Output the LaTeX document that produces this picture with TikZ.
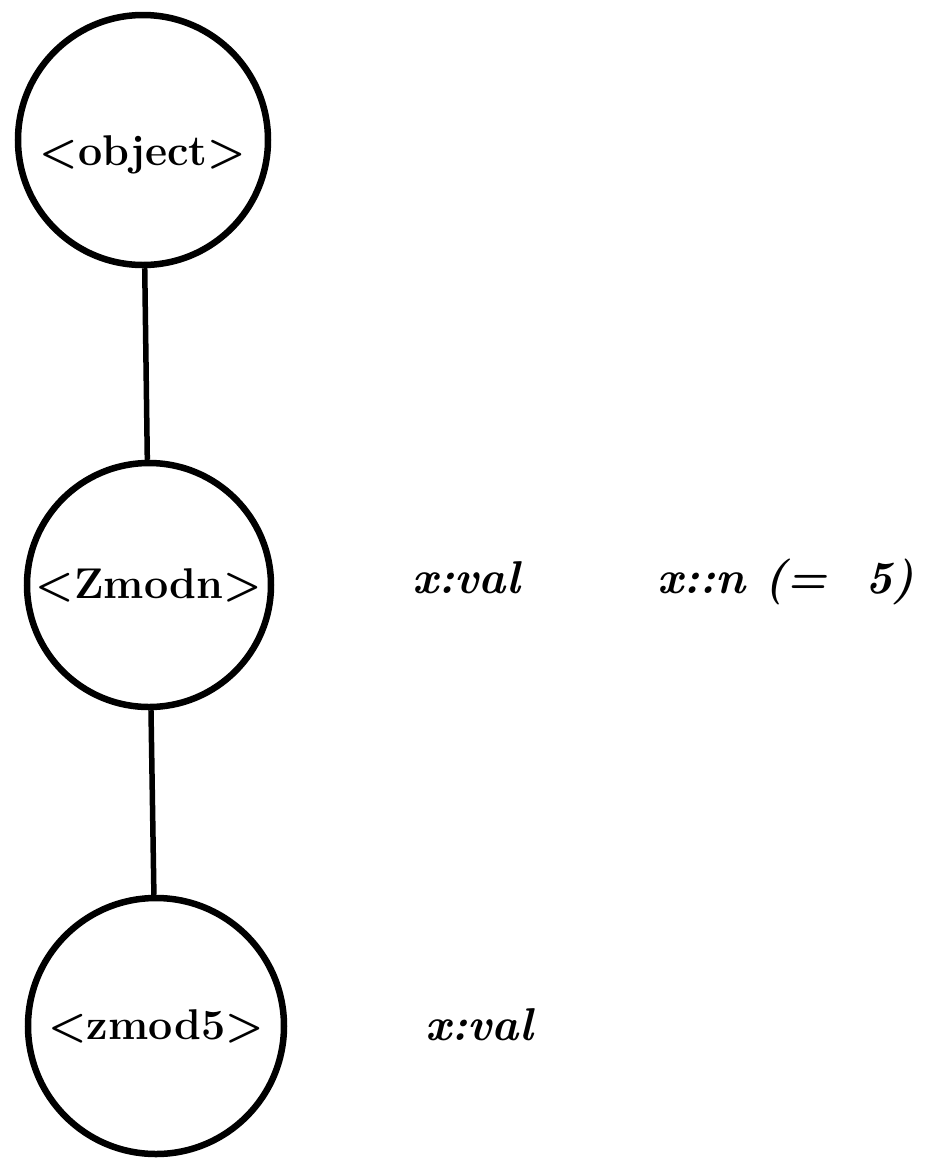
\documentclass[tikz,border=0pt]{standalone}
\usepackage{fontspec}
\usetikzlibrary{positioning}
\tikzset{
  cls/.style={circle,draw=black,line width=6.5pt,inner sep=0pt,
              font=\fontsize{43}{50}\selectfont\bfseries},
  mbr/.style={anchor=base west,inner sep=0pt,
              font=\fontsize{46}{55}\selectfont\bfseries\itshape},
  link/.style={line width=5.5pt},
}

\begin{document}
\begin{tikzpicture}[x=1pt,y=-1pt]
    \useasboundingbox (0,0) rectangle (933,1160);
    % class hierarchy
    \node[cls,minimum size=250pt,text height=50pt,text depth=0pt]
      (obj) at (143,140) {<object>};
    \node[cls,minimum size=244pt] (zmodn) at (149,585) {<Zmodn>};
    \node[cls,minimum size=256pt] (zmodfive) at (156,1026) {<zmod5>};
    \draw[link] (obj) -- (zmodn);
    \draw[link] (zmodn) -- (zmodfive);
    % members
    \node[mbr] (valn) at (412,593) {x:val};
    \node[mbr] (nn) at (657,593) {x::n (=\ \ 5)};
    \node[mbr] (valfive) at (425,1040) {x:val};
  \end{tikzpicture}
\end{document}
